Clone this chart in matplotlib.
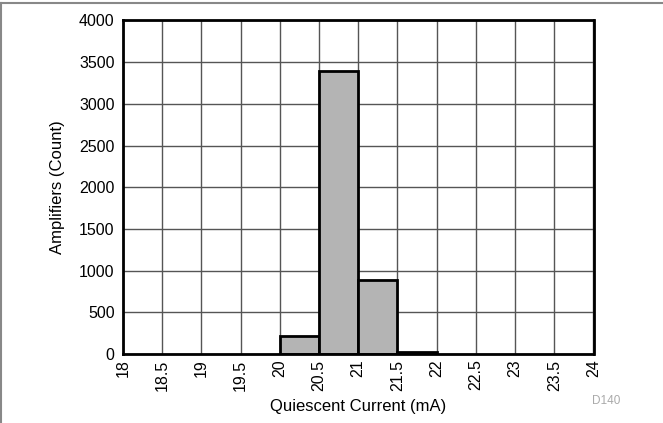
import matplotlib.pyplot as plt
import numpy as np

plt.rcParams['font.family'] = ['Liberation Sans', 'DejaVu Sans']

# histogram bins (mA) and counts
bin_edges = [18, 18.5, 19, 19.5, 20, 20.5, 21, 21.5, 22, 22.5, 23, 23.5, 24]
counts = [0, 0, 0, 0, 220, 3400, 890, 20, 0, 0, 0, 0]
x_ticks = [18, 18.5, 19, 19.5, 20, 20.5, 21, 21.5, 22, 22.5, 23, 23.5, 24]
x_labels = ['18', '18.5', '19', '19.5', '20', '20.5', '21', '21.5', '22', '22.5', '23', '23.5', '24']
y_ticks = [0, 500, 1000, 1500, 2000, 2500, 3000, 3500, 4000]

W, H = 663, 423
fig = plt.figure(figsize=(W/100, H/100), dpi=100)
ax = fig.add_axes([123/W, 1-354/H, (593.5-123)/W, (354-20.5)/H])

# outer frame lines (top and left)
fig.add_artist(plt.Line2D([0, 1], [1-3/H, 1-3/H], color='#888888', lw=1.5, transform=fig.transFigure))
fig.add_artist(plt.Line2D([0.6/W, 0.6/W], [0, 1-3/H], color='#888888', lw=1.5, transform=fig.transFigure))

lefts = np.array(bin_edges[:-1])
widths = np.diff(bin_edges)
nz = [i for i, c in enumerate(counts) if c > 0]
ax.bar(lefts[nz], [counts[i] for i in nz], width=widths[nz], align='edge',
       color='#b4b4b4', edgecolor='black', linewidth=2, zorder=3)

ax.set_xlim(18, 24)
ax.set_ylim(0, 4000)
ax.set_xticks(x_ticks)
ax.set_xticklabels(x_labels, rotation=90, fontsize=11.5)
ax.set_yticks(y_ticks)
ax.set_yticklabels([str(v) for v in y_ticks], fontsize=11.5)
ax.tick_params(axis='x', length=0, pad=4)
ax.tick_params(axis='y', length=0, pad=6)
ax.grid(True, color='#555555', lw=1, zorder=0)
for s in ax.spines.values():
    s.set_linewidth(2)
    s.set_zorder(4)

ax.set_xlabel('Quiescent Current (mA)', fontsize=12, labelpad=6)
ax.set_ylabel('Amplifiers (Count)', fontsize=12, labelpad=10)
fig.text(606/W, 1-401/H, 'D140', fontsize=8.5, color='#aaaaaa', ha='center', va='center')

plt.savefig('out.png', dpi=100)
